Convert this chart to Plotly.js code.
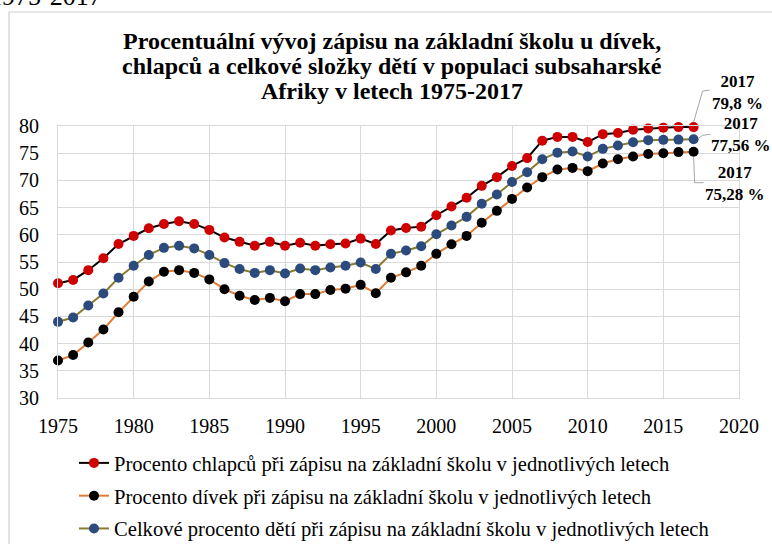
<!DOCTYPE html>
<html>
<head>
<meta charset="utf-8">
<script src="https://cdn.plot.ly/plotly-3.0.1.min.js"></script>
<style>
html,body{margin:0;padding:0;background:#fff;}
#chart{width:772px;height:544px;}
</style>
</head>
<body>
<div id="chart"></div>
<script>
// ---- data ----
var years = [1975,1976,1977,1978,1979,1980,1981,1982,1983,1984,
             1985,1986,1987,1988,1989,1990,1991,1992,1993,1994,
             1995,1996,1997,1998,1999,2000,2001,2002,2003,2004,
             2005,2006,2007,2008,2009,2010,2011,2012,2013,2014,
             2015,2016,2017];
var boys = [51.1,51.7,53.5,55.7,58.3,59.8,61.2,62.0,62.5,62.0,
            60.9,59.5,58.7,58.0,58.7,58.0,58.55,58.0,58.25,58.4,
            59.3,58.3,60.8,61.25,61.5,63.6,65.2,66.8,69.0,70.6,
            72.65,74.1,77.3,78.0,78.0,77.05,78.5,78.7,79.3,79.55,
            79.7,79.8,79.8];
var girls = [36.9,37.9,40.2,42.6,45.75,48.6,51.4,53.2,53.5,53.0,
             51.8,50.0,48.8,48.0,48.4,47.8,49.1,49.1,49.85,50.1,
             50.8,49.25,52.1,53.1,54.3,56.5,58.25,59.8,62.2,64.4,
             66.6,68.7,70.6,72.0,72.3,71.7,73.1,73.9,74.4,74.85,
             75.0,75.2,75.28];
var total = [44.0,44.8,47.0,49.2,52.1,54.3,56.3,57.6,58.0,57.5,
             56.3,54.8,53.7,53.0,53.5,52.9,53.8,53.5,54.0,54.3,
             54.9,53.7,56.5,57.1,57.9,60.1,61.7,63.3,65.7,67.4,
             69.7,71.5,73.9,75.1,75.3,74.4,75.8,76.4,77.0,77.4,
             77.45,77.5,77.56];
var seriesNames = [
  "Procento chlapců při zápisu na základní školu v jednotlivých letech",
  "Procento dívek při zápisu na základní školu v jednotlivých letech",
  "Celkové procento dětí při zápisu na základní školu v jednotlivých letech"
];
var titleLines = [
  "Procentuální vývoj zápisu na základní školu u dívek,",
  "chlapců a celkové složky dětí v populaci subsaharské",
  "Afriky v letech 1975-2017"
];
var lastLabels = ["79,8 %", "75,28 %", "77,56 %"];
var xTicks = [1975,1980,1985,1990,1995,2000,2005,2010,2015,2020];
var yTicks = [30,35,40,45,50,55,60,65,70,75,80];

// ---- layout geometry ----
var W = 772, H = 544;
var M = {l:58, r:33, t:126, b:146, autoexpand:false};
var PW = W - M.l - M.r, PH = H - M.t - M.b;
var xRange = [1975, 2020], yRange = [30, 80];
function px(year){ return (year - xRange[0]) / (xRange[1] - xRange[0]); }
function py(v){ return (v - yRange[0]) / (yRange[1] - yRange[0]); }
function dxp(p){ return p / PW; }
function dyp(p){ return p / PH; }

var serif = "'Liberation Serif', 'Times New Roman', serif";

function mk(name, y, lineColor, markerColor, grp){
  return {
    type:'scatter', mode:'lines+markers', name:name, x:years, y:y,
    legendgroup:grp,
    line:{color:lineColor, width:2},
    marker:{color:markerColor, size:10},
    cliponaxis:false
  };
}
var traces = [
  mk(seriesNames[0], boys, '#000000', '#d00000', 'a'),
  mk(seriesNames[1], girls, '#e27b35', '#000000', 'b'),
  mk(seriesNames[2], total, '#8a7a2c', '#2b4a7e', 'c')
];

var lastX = years[years.length-1];
var lb = boys[boys.length-1], lg = girls[girls.length-1], lt = total[total.length-1];

function leader(xv, yv, pts){
  var x0 = px(xv), y0 = py(yv);
  var d = pts.map(function(p,i){
    return (i===0?'M ':'L ') + (x0 + dxp(p[0])).toFixed(5) + ' ' + (y0 - dyp(p[1])).toFixed(5);
  }).join(' ');
  return {type:'path', xref:'paper', yref:'paper', path:d, line:{color:'#a6a6a6', width:1}};
}

var shapes = [
  // outer chart frame
  {type:'path', xref:'paper', yref:'paper',
   path:'M ' + dxp(9-M.l).toFixed(5) + ' -1 L ' + dxp(9-M.l).toFixed(5) + ' ' + (1+dyp(M.t-12)).toFixed(5) + ' L 1.2 ' + (1+dyp(M.t-12)).toFixed(5),
   line:{color:'#d0d0d0', width:1.2}},
  leader(lastX, lb, [[0,-5],[9,-36],[16,-37]]),
  leader(lastX, lt, [[5,-1],[9,-4],[17,-5]]),
  leader(lastX, lg, [[0,5],[1,31],[10,31]])
];

var annotations = [];
var tY = [41, 66, 91];
titleLines.forEach(function(t,i){
  annotations.push({xref:'paper', yref:'paper', x:dxp(392-M.l), y:1+dyp(M.t - tY[i]),
    xanchor:'center', yanchor:'middle', showarrow:false, text:t,
    font:{family:serif, size:24, color:'#000', weight:'bold'}});
});
function lastAnn(yv, label, sx, sy){
  return {xref:'x', yref:'y', x:lastX, y:yv, xshift:sx, yshift:sy, showarrow:false,
    xanchor:'center', yanchor:'middle', align:'center',
    text:String(lastX) + '<br>' + label,
    font:{family:serif, size:17, color:'#000', weight:'bold'}};
}
annotations.push(lastAnn(lb, lastLabels[0], 44, 35));
annotations.push(lastAnn(lt, lastLabels[2], 47, 5));
annotations.push(lastAnn(lg, lastLabels[1], 41, -32));
// cut-off caption at the very top
annotations.push({xref:'paper', yref:'paper', x:dxp(104-M.l), y:1+dyp(M.t-13),
  xanchor:'right', yanchor:'bottom', showarrow:false, text:'1975-2017',
  font:{family:serif, size:26, color:'#000'}});

var layout = {
  width:W, height:H,
  margin:M,
  paper_bgcolor:'#fff', plot_bgcolor:'#fff',
  showlegend:true,
  legend:{orientation:'v', x:dxp(74-M.l), xanchor:'left', y:-dyp(443-398), yanchor:'top',
    font:{family:serif, size:20.6, color:'#000'}, tracegroupgap:3, itemwidth:30,
    bgcolor:'rgba(0,0,0,0)'},
  xaxis:{range:xRange, tickvals:xTicks, ticktext:xTicks.map(String),
    showgrid:true, gridcolor:'#d9d9d9', gridwidth:1, zeroline:false,
    showline:true, linecolor:'#d9d9d9', mirror:true, ticks:'',
    ticklabelstandoff:10,
    tickfont:{family:serif, size:20, color:'#000'}},
  yaxis:{range:yRange, tickvals:yTicks, ticktext:yTicks.map(String),
    showgrid:true, gridcolor:'#d9d9d9', gridwidth:1, zeroline:false,
    showline:true, linecolor:'#d9d9d9', mirror:true, ticks:'',
    ticklabelstandoff:14,
    tickfont:{family:serif, size:20, color:'#000'}},
  shapes:shapes,
  annotations:annotations
};
Plotly.newPlot('chart', traces, layout, {displayModeBar:false, staticPlot:true});
</script>
</body>
</html>
